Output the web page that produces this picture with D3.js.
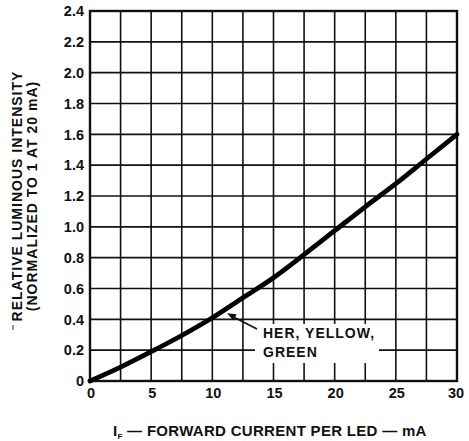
<!DOCTYPE html>
<html><head><meta charset="utf-8">
<script src="https://cdn.jsdelivr.net/npm/d3@7"></script>
<style>body{margin:0;background:#fff}svg{display:block}text{font-family:"Liberation Sans",Arial,sans-serif;font-weight:bold;fill:#111}</style>
</head><body>
<script>
const currentMA = [0, 2.5, 5, 7.5, 10, 12.5, 15, 17.5, 20, 22.5, 25, 27.5, 30];
const intensity = [0, 0.09, 0.19, 0.295, 0.41, 0.54, 0.67, 0.82, 0.975, 1.13, 1.28, 1.44, 1.6];
const xTicks = [0, 5, 10, 15, 20, 25, 30];
const yTicks = [0, 0.2, 0.4, 0.6, 0.8, 1.0, 1.2, 1.4, 1.6, 1.8, 2.0, 2.2, 2.4];
const xGrid = d3.range(0, 30.01, 2.5);
const seriesLabel = ["HER, YELLOW,", "GREEN"];

const W = 469, H = 441;
const svg = d3.select("body").append("svg").attr("width", W).attr("height", H);
const x = d3.scaleLinear().domain([0, 30]).range([90, 457]);
const y = d3.scaleLinear().domain([0, 2.4]).range([381, 11]);

// grid
svg.append("g").selectAll("line").data(xGrid).join("line")
  .attr("x1", d => x(d)).attr("x2", d => x(d)).attr("y1", y(0)).attr("y2", y(2.4))
  .attr("stroke", "#111").attr("stroke-width", 1.6);
svg.append("g").selectAll("line").data(yTicks).join("line")
  .attr("x1", x(0)).attr("x2", x(30)).attr("y1", d => y(d)).attr("y2", d => y(d))
  .attr("stroke", "#111").attr("stroke-width", 1.6);

// white box behind label
svg.append("rect").attr("x", 255).attr("y", 324).attr("width", 124).attr("height", 39).attr("fill", "#fff");

// border
svg.append("rect").attr("x", x(0)).attr("y", y(2.4)).attr("width", x(30) - x(0)).attr("height", y(0) - y(2.4))
  .attr("fill", "none").attr("stroke", "#111").attr("stroke-width", 2.4);

// curve
const data = currentMA.map((c, i) => [c, intensity[i]]);
svg.append("path").datum(data)
  .attr("d", d3.line().x(d => x(d[0])).y(d => y(d[1])).curve(d3.curveMonotoneX))
  .attr("fill", "none").attr("stroke", "#000").attr("stroke-width", 4.8).attr("stroke-linecap", "round");

// y tick labels
svg.append("g").selectAll("text").data(yTicks).join("text")
  .attr("x", 84).attr("y", d => y(d)).attr("dy", "0.36em").attr("text-anchor", "end")
  .attr("font-size", 14.5).text(d => d === 0 ? "0" : d.toFixed(1));

// x tick labels
svg.append("g").selectAll("text").data(xTicks).join("text")
  .attr("x", d => x(d) + (d === 30 ? -1 : 1)).attr("y", 398).attr("text-anchor", "middle")
  .attr("font-size", 14.5).text(d => d);

// annotation
const ann = svg.append("text").attr("font-size", 14).attr("letter-spacing", 1);
ann.append("tspan").attr("x", 263).attr("y", 338).text(seriesLabel[0]);
ann.append("tspan").attr("x", 263).attr("y", 357).text(seriesLabel[1]);

// leader arrow
const tip = [x(11.2), y(0.44)];
svg.append("line").attr("x1", 257).attr("y1", 329).attr("x2", tip[0] + 5).attr("y2", tip[1] + 3)
  .attr("stroke", "#111").attr("stroke-width", 1.6);
const ang = Math.atan2(329 - tip[1], 257 - tip[0]);
const L = 9, Wd = 3.5;
const p1 = [tip[0] + L * Math.cos(ang) - Wd * Math.sin(ang), tip[1] + L * Math.sin(ang) + Wd * Math.cos(ang)];
const p2 = [tip[0] + L * Math.cos(ang) + Wd * Math.sin(ang), tip[1] + L * Math.sin(ang) - Wd * Math.cos(ang)];
svg.append("path").attr("d", `M${tip}L${p1}L${p2}Z`).attr("fill", "#111");

// x axis title
const xt = svg.append("text").attr("x", 113).attr("y", 436).attr("font-size", 15).attr("letter-spacing", 0.3);
xt.append("tspan").text("I");
xt.append("tspan").attr("font-size", 8).attr("dy", 3).text("F");
xt.append("tspan").attr("dy", -3).text(" \u2014 FORWARD CURRENT PER LED \u2014 mA");

// y axis title
const yt = svg.append("text").attr("transform", "translate(0,196) rotate(-90)").attr("text-anchor", "middle")
  .attr("font-size", 14).attr("letter-spacing", 1);
yt.append("tspan").attr("x", 0).attr("y", 22).text("RELATIVE LUMINOUS INTENSITY");
yt.append("tspan").attr("x", 0).attr("y", 37).text("(NORMALIZED TO 1 AT 20 mA)");
svg.append("line").attr("x1", 13).attr("x2", 13).attr("y1", 325).attr("y2", 330).attr("stroke", "#555").attr("stroke-width", 1.2);
</script>
</body></html>
